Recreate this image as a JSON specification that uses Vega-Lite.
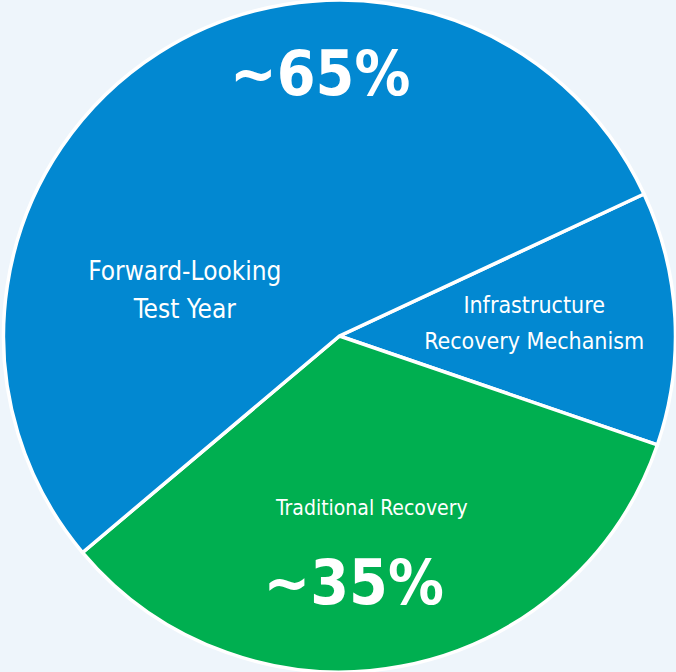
{
  "$schema": "https://vega.github.io/schema/vega-lite/v6.json",
  "autosize": {"type": "fit", "contains": "padding"},
  "width": 676,
  "height": 672,
  "padding": {"left": 4, "right": 0, "top": 0, "bottom": 0},
  "background": "#eef5fb",
  "config": {"view": {"stroke": null}},
  "data": {
    "values": [
      {"ord": 1, "key": "infra", "slice": "Infrastructure Recovery Mechanism", "label": "Infrastructure\nRecovery Mechanism", "share": 12.2, "big": ""},
      {"ord": 2, "key": "trad", "slice": "Traditional Recovery", "label": "Traditional Recovery", "share": 33.6, "big": "~35%"},
      {"ord": 3, "key": "fwd", "slice": "Forward-Looking Test Year", "label": "Forward-Looking\nTest Year", "share": 54.2, "big": "~65%"}
    ]
  },
  "encoding": {
    "theta": {"field": "share", "type": "quantitative", "stack": true, "scale": {"range": [1.1345, 7.4177]}},
    "order": {"field": "ord", "type": "quantitative"}
  },
  "layer": [
    {
      "mark": {"type": "arc", "outerRadius": 336, "stroke": "white", "strokeWidth": 3.5},
      "encoding": {
        "color": {"field": "slice", "type": "nominal", "legend": null,
          "scale": {"domain": ["Infrastructure Recovery Mechanism", "Traditional Recovery", "Forward-Looking Test Year"], "range": ["#0288d1", "#00af50", "#0288d1"]}}
      }
    },
    {
      "mark": {"type": "text", "radius": 161, "thetaOffset": -0.721, "dy": -19, "fill": "white", "font": "DejaVu Sans Condensed, Roboto, sans-serif", "fontWeight": 300, "fontSize": 26, "lineBreak": "\n", "lineHeight": 38, "align": "center", "baseline": "middle"},
      "encoding": {
        "text": {"field": "label"},
        "opacity": {"condition": {"test": "datum.key == 'fwd'", "value": 1}, "value": 0}
      }
    },
    {
      "mark": {"type": "text", "radius": 195, "thetaOffset": -0.008, "dy": -18, "fill": "white", "font": "DejaVu Sans Condensed, Roboto, sans-serif", "fontWeight": 300, "fontSize": 23, "lineBreak": "\n", "lineHeight": 36, "align": "center", "baseline": "middle"},
      "encoding": {
        "text": {"field": "label"},
        "opacity": {"condition": {"test": "datum.key == 'infra'", "value": 1}, "value": 0}
      }
    },
    {
      "mark": {"type": "text", "radius": 176, "fill": "white", "font": "DejaVu Sans Condensed, Roboto, sans-serif", "fontWeight": 300, "fontSize": 21, "align": "center", "baseline": "middle"},
      "encoding": {
        "text": {"field": "label"},
        "opacity": {"condition": {"test": "datum.key == 'trad'", "value": 1}, "value": 0}
      }
    },
    {
      "mark": {"type": "text", "radius": 261, "thetaOffset": 0.494, "fill": "white", "font": "DejaVu Sans Condensed, Roboto, sans-serif", "fontWeight": "bold", "fontSize": 62, "align": "center", "baseline": "middle"},
      "encoding": {
        "text": {"field": "big"},
        "opacity": {"condition": {"test": "datum.key == 'fwd'", "value": 1}, "value": 0}
      }
    },
    {
      "mark": {"type": "text", "radius": 249, "thetaOffset": 0.128, "fill": "white", "font": "DejaVu Sans Condensed, Roboto, sans-serif", "fontWeight": "bold", "fontSize": 62, "align": "center", "baseline": "middle"},
      "encoding": {
        "text": {"field": "big"},
        "opacity": {"condition": {"test": "datum.key == 'trad'", "value": 1}, "value": 0}
      }
    }
  ]
}
